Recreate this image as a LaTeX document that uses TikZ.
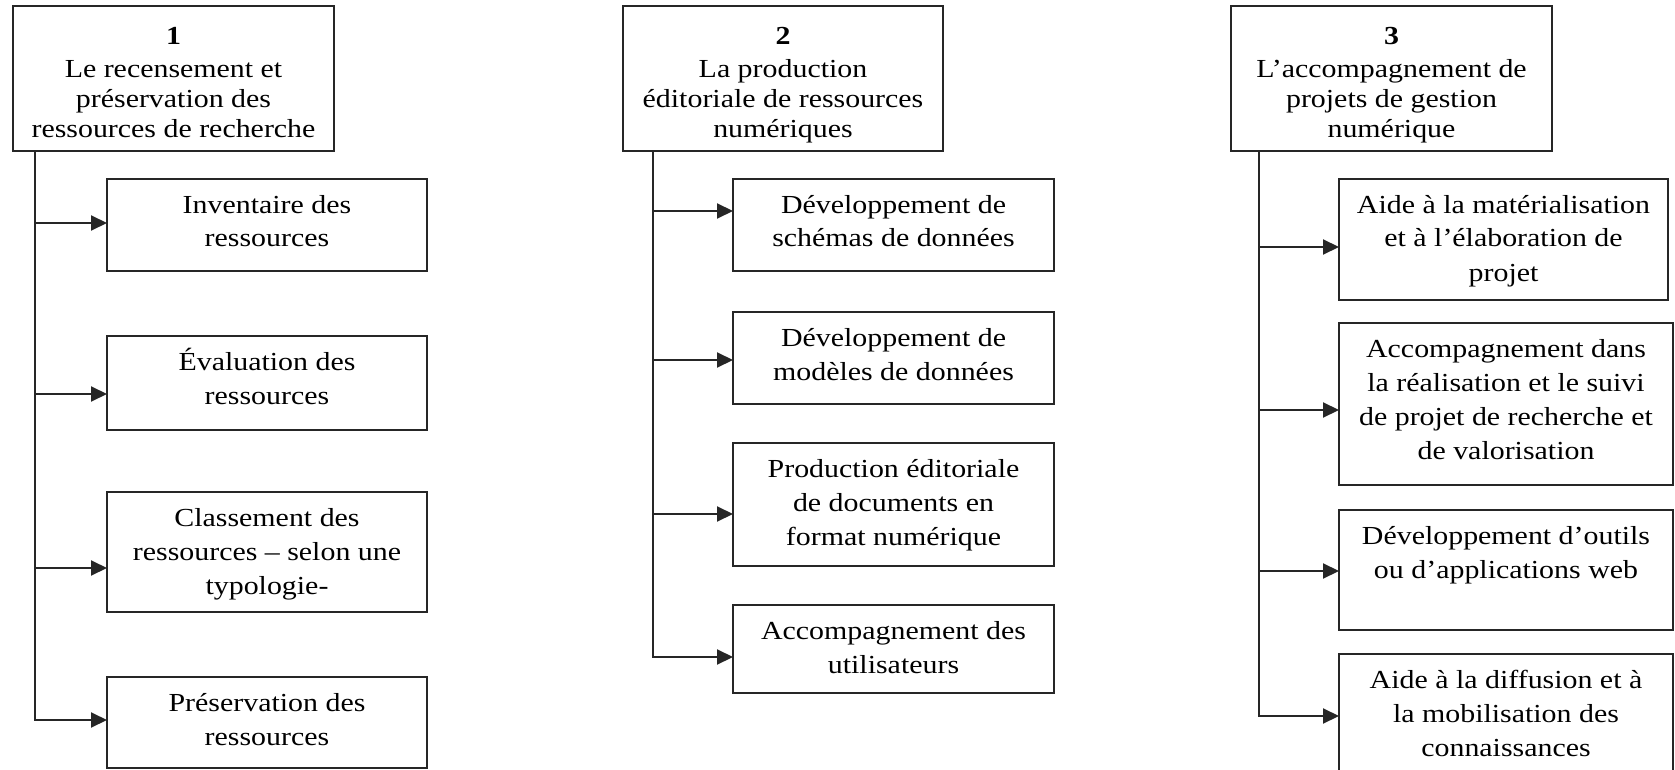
\documentclass[tikz,border=0pt]{standalone}
\usepackage{fontspec}
\setmainfont[FakeStretch=1.15]{Liberation Serif}
\usetikzlibrary{arrows.meta}
\newcommand\mybt[3]{\parbox[c][#2][t]{#1}{\centering\fontsize{13}{17}\selectfont\rule{0pt}{17pt}#3}}
\newcommand\myht[4]{\parbox[c][#2][t]{#1}{\centering\fontsize{13}{15}\selectfont\rule{0pt}{19.5pt}\textbf{#3}\\[1.5pt]#4}}
\tikzset{
  bx/.style={draw=black!85, line width=1pt, inner sep=0pt, outer sep=0pt, anchor=north west},
  arr/.style={draw=black!85, line width=1pt, -{Triangle[length=8pt,width=7.5pt]}},
}
\begin{document}
\begin{tikzpicture}[x=0.5pt,y=-0.5pt]
\clip (0,0) rectangle (1675,770);
\fill[white] (0,0) rectangle (1675,770);
% Column 1
\node[bx] (h1) at (13,6) {\myht{160.5pt}{72.5pt}{1}{Le recensement et\\préservation des\\ressources de recherche}};
\node[bx] (b1a) at (107,179) {\mybt{160pt}{46pt}{Inventaire des\\ressources}};
\node[bx] (b1b) at (107,336) {\mybt{160pt}{47pt}{Évaluation des\\ressources}};
\node[bx] (b1c) at (107,492) {\mybt{160pt}{60pt}{Classement des\\ressources – selon une\\typologie-}};
\node[bx] (b1d) at (107,677) {\mybt{160pt}{45.5pt}{Préservation des\\ressources}};
\coordinate (j1a) at (35,223);
\coordinate (j1b) at (35,394);
\coordinate (j1c) at (35,568);
\coordinate (j1d) at (35,720);
\draw[arr] (h1.south -| j1a) -- (j1d) -- (j1d -| b1d.west);
\draw[arr] (j1a) -- (j1a -| b1a.west);
\draw[arr] (j1b) -- (j1b -| b1b.west);
\draw[arr] (j1c) -- (j1c -| b1c.west);
% Column 2
\node[bx] (h2) at (623,6) {\myht{160pt}{72.5pt}{2}{La production\\éditoriale de ressources\\numériques}};
\node[bx] (b2a) at (733,179) {\mybt{160.5pt}{46pt}{Développement de\\schémas de données}};
\node[bx] (b2b) at (733,312) {\mybt{160.5pt}{46pt}{Développement de\\modèles de données}};
\node[bx] (b2c) at (733,443) {\mybt{160.5pt}{61.5pt}{Production éditoriale\\de documents en\\format numérique}};
\node[bx] (b2d) at (733,605) {\mybt{160.5pt}{44pt}{Accompagnement des\\utilisateurs}};
\coordinate (j2a) at (653,211);
\coordinate (j2b) at (653,360);
\coordinate (j2c) at (653,514);
\coordinate (j2d) at (653,657);
\draw[arr] (h2.south -| j2a) -- (j2d) -- (j2d -| b2d.west);
\draw[arr] (j2a) -- (j2a -| b2a.west);
\draw[arr] (j2b) -- (j2b -| b2b.west);
\draw[arr] (j2c) -- (j2c -| b2c.west);
% Column 3
\node[bx] (h3) at (1231,6) {\myht{160.5pt}{72.5pt}{3}{L’accompagnement de\\projets de gestion\\numérique}};
\node[bx] (b3a) at (1339,179) {\mybt{164.5pt}{60.5pt}{Aide à la matérialisation\\et à l’élaboration de\\projet}};
\node[bx] (b3b) at (1339,323) {\mybt{167pt}{81pt}{Accompagnement dans\\la réalisation et le suivi\\de projet de recherche et\\de valorisation}};
\node[bx] (b3c) at (1339,510) {\mybt{167pt}{60pt}{Développement d’outils\\ou d’applications web}};
\node[bx] (b3d) at (1339,654) {\mybt{167pt}{62pt}{Aide à la diffusion et à\\la mobilisation des\\connaissances}};
\coordinate (j3a) at (1259,247);
\coordinate (j3b) at (1259,410);
\coordinate (j3c) at (1259,571);
\coordinate (j3d) at (1259,716);
\draw[arr] (h3.south -| j3a) -- (j3d) -- (j3d -| b3d.west);
\draw[arr] (j3a) -- (j3a -| b3a.west);
\draw[arr] (j3b) -- (j3b -| b3b.west);
\draw[arr] (j3c) -- (j3c -| b3c.west);
\end{tikzpicture}
\end{document}
